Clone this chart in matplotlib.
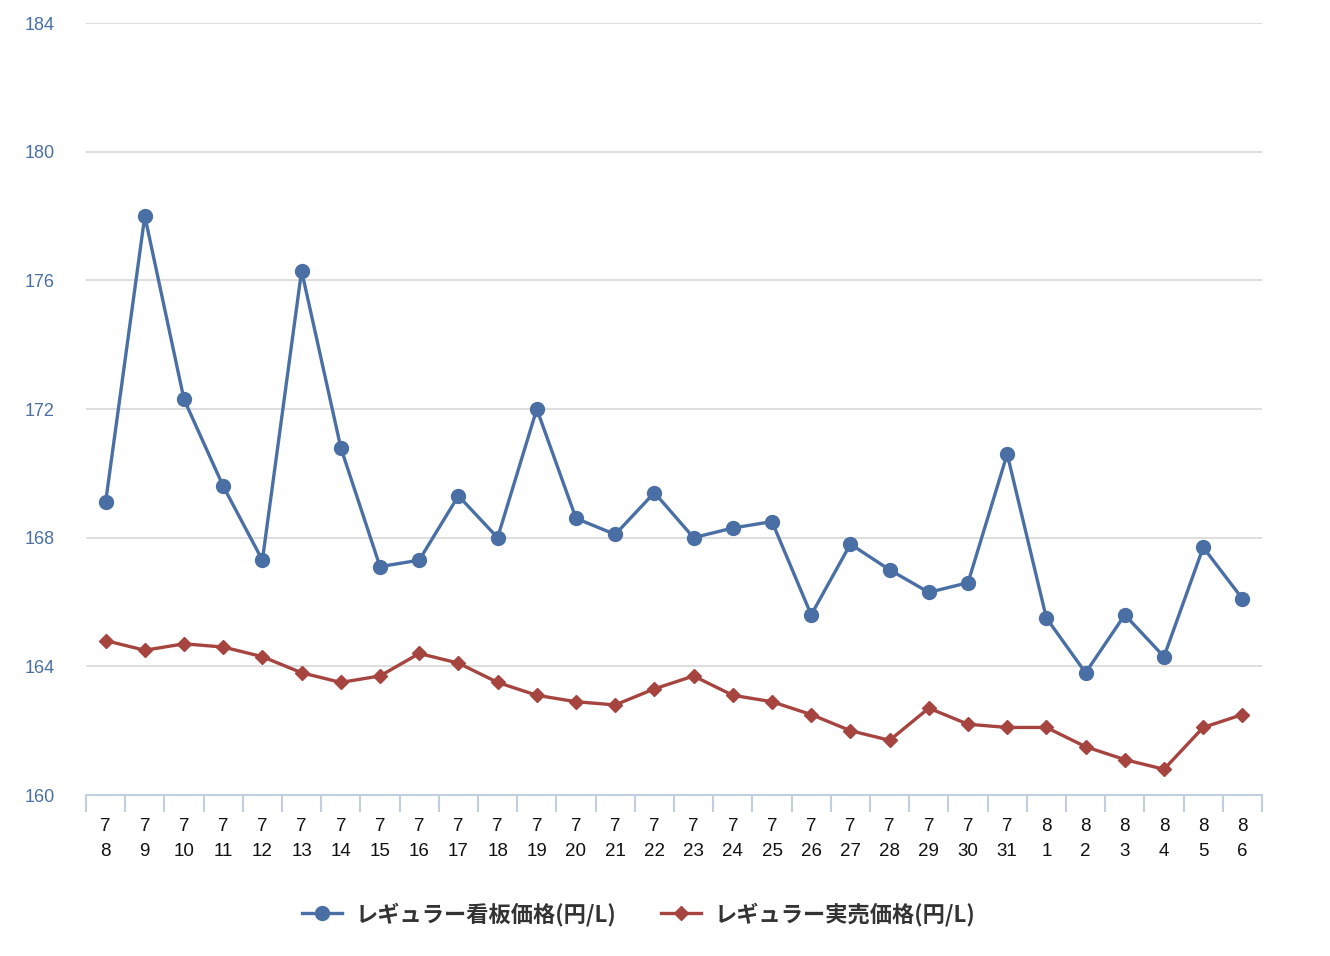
import matplotlib
matplotlib.use("Agg")
import matplotlib.pyplot as plt

plt.rcParams['font.family'] = ['Noto Sans CJK JP', 'DejaVu Sans']

months = [7] * 24 + [8] * 6
days = list(range(8, 32)) + list(range(1, 7))
board_price = [169.1, 178.0, 172.3, 169.6, 167.3, 176.3, 170.8, 167.1, 167.3, 169.3,
               168.0, 172.0, 168.6, 168.1, 169.4, 168.0, 168.3, 168.5, 165.6, 167.8,
               167.0, 166.3, 166.6, 170.6, 165.5, 163.8, 165.6, 164.3, 167.7, 166.1]
actual_price = [164.8, 164.5, 164.7, 164.6, 164.3, 163.8, 163.5, 163.7, 164.4, 164.1,
                163.5, 163.1, 162.9, 162.8, 163.3, 163.7, 163.1, 162.9, 162.5, 162.0,
                161.7, 162.7, 162.2, 162.1, 162.1, 161.5, 161.1, 160.8, 162.1, 162.5]
labels = [f"{m}\n{d}" for m, d in zip(months, days)]

blue = '#4A6FA5'
red = '#A6443F'

fig = plt.figure(figsize=(13.3, 9.56), dpi=100)
ax = fig.add_axes([86 / 1330, 1 - 795 / 956, (1262 - 86) / 1330, (795 - 23) / 956])

x = list(range(len(labels)))
ax.plot(x, board_price, color=blue, lw=2.4, marker='o', ms=10,
        label='レギュラー看板価格(円/L)', zorder=3)
ax.plot(x, actual_price, color=red, lw=2.4, marker='D', ms=7.5,
        label='レギュラー実売価格(円/L)', zorder=3)

ax.set_xlim(-0.5, len(labels) - 0.5)
ax.set_ylim(160, 184)
ax.set_yticks(range(160, 185, 4))
ax.yaxis.grid(True, color='#D8D8D8', lw=1.2)
ax.set_axisbelow(True)

for s in ['top', 'right', 'left']:
    ax.spines[s].set_visible(False)
ax.spines['bottom'].set_color('#C0D0E0')
ax.spines['bottom'].set_linewidth(1.5)

ax.set_xticks(x)
ax.set_xticklabels(labels, fontsize=13.5, color='#111111', linespacing=1.65,
                   family='Liberation Sans')
ax.set_xticks([i - 0.5 for i in range(len(labels) + 1)], minor=True)
ax.tick_params(axis='x', which='major', length=0, pad=16.5)
ax.tick_params(axis='x', which='minor', length=12, width=1.5, color='#C0D0E0')
ax.tick_params(axis='y', length=0, labelsize=13, labelcolor='#4A6FA5', pad=44)
for t in ax.get_yticklabels():
    t.set_horizontalalignment('left')
    t.set_family('Liberation Sans')

leg = ax.legend(loc='upper center', bbox_to_anchor=(0.47, -0.113), ncol=2,
                frameon=False, prop={'size': 16, 'weight': 'bold'},
                handlelength=1.8, columnspacing=2.0, handletextpad=0.6)
for t in leg.get_texts():
    t.set_color('#333333')

fig.savefig('out.png', dpi=100)
